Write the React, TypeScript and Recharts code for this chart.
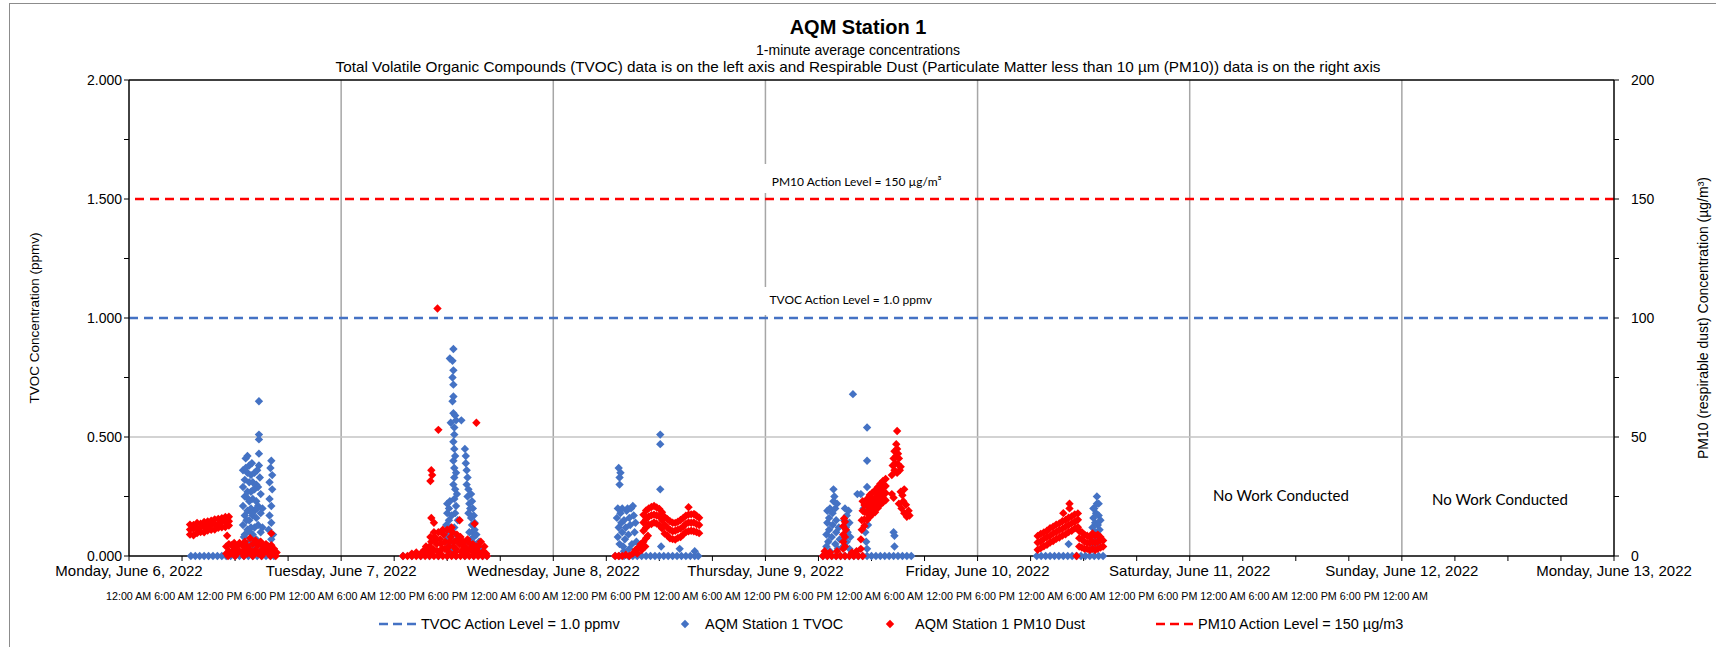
import React from "react";
import {
  ScatterChart,
  Scatter,
  XAxis,
  YAxis,
  CartesianGrid,
  ReferenceLine,
} from "recharts";

type Pt = [number, number];

// x = hours since Monday, June 6, 2022 12:00 AM
// TVOC in ppmv (left axis)
const tvocMon: Pt[] = [
  [7.0, 0], [7.5, 0], [8.0, 0], [8.5, 0], [9.0, 0], [9.5, 0], [10.0, 0], [10.5, 0], [11.0, 0], [11.5, 0],
  [12.0, 0], [12.5, 0], [13.0, 0], [13.5, 0], [14.0, 0], [14.5, 0], [15.0, 0], [15.5, 0], [16.0, 0], [16.4, 0],
  [12.9, 0.05], [12.9, 0.13], [12.9, 0.21], [12.9, 0.29], [12.9, 0.36], [13.1, 0.09], [13.1, 0.17], [13.1, 0.25],
  [13.1, 0.32], [13.2, 0.41], [13.4, 0.42], [13.4, 0.02], [13.4, 0.11], [13.4, 0.19], [13.4, 0.27], [13.4, 0.35],
  [13.6, 0.06], [13.6, 0.15], [13.6, 0.23], [13.6, 0.31], [13.6, 0.38], [13.8, 0.04], [13.8, 0.12], [13.8, 0.2],
  [13.8, 0.27], [13.8, 0.34], [14.0, 0.09], [14.0, 0.17], [14.0, 0.24], [14.0, 0.31], [14.2, 0.02], [14.2, 0.12],
  [14.2, 0.19], [14.2, 0.28], [14.2, 0.35], [14.4, 0.07], [14.4, 0.16], [14.4, 0.23], [14.4, 0.3], [14.6, 0.05],
  [14.6, 0.13], [14.6, 0.21], [14.6, 0.29], [14.7, 0.38], [14.7, 0.43], [14.7, 0.49], [14.7, 0.51], [14.7, 0.65],
  [14.9, 0.1], [14.9, 0.18], [14.9, 0.26], [15.1, 0.03], [15.1, 0.12], [15.1, 0.2],
  [13.0, 0.08], [13.3, 0.15], [13.5, 0.24], [13.7, 0.1], [13.9, 0.18], [14.1, 0.28], [14.3, 0.05], [14.5, 0.2],
  [14.8, 0.33], [13.2, 0.37], [13.9, 0.39], [14.5, 0.36],
  [15.8, 0.04], [15.8, 0.11], [15.9, 0.17], [15.9, 0.24], [15.9, 0.31], [16.0, 0.37], [16.1, 0.4], [16.1, 0.07],
  [16.1, 0.14], [16.1, 0.21], [16.2, 0.28], [16.2, 0.34], [16.3, 0.02], [16.3, 0.09],
];

const tvocTue: Pt[] = [
  [31, 0], [32, 0], [33, 0], [34, 0], [35, 0], [36, 0], [37, 0], [38, 0], [39, 0], [40, 0], [40.5, 0],
  [35.9, 0.03], [35.9, 0.08], [35.9, 0.13], [36.0, 0.18], [36.0, 0.22], [36.1, 0.05], [36.1, 0.1], [36.2, 0.15],
  [36.2, 0.2], [36.3, 0.23], [36.3, 0.02], [36.4, 0.07], [36.4, 0.12], [36.5, 0.17],
  [36.7, 0.87], [36.3, 0.83], [36.6, 0.82], [36.7, 0.78], [36.6, 0.75], [36.7, 0.72], [36.7, 0.67], [36.6, 0.65],
  [36.7, 0.6], [36.9, 0.59], [36.4, 0.56], [37.0, 0.57], [37.6, 0.57], [36.8, 0.54], [36.8, 0.51], [36.7, 0.48],
  [36.8, 0.45], [36.9, 0.42], [36.7, 0.4], [36.8, 0.37], [37.0, 0.35], [36.8, 0.33], [36.7, 0.3], [36.9, 0.28],
  [37.1, 0.26], [36.8, 0.24], [37.0, 0.21], [36.9, 0.18], [37.2, 0.15], [36.8, 0.12], [37.0, 0.09], [37.2, 0.06],
  [36.9, 0.03],
  [38.0, 0.45], [38.1, 0.42], [38.1, 0.39], [38.2, 0.36], [38.3, 0.33], [38.2, 0.3], [38.4, 0.28], [38.3, 0.25],
  [38.5, 0.22], [38.6, 0.2], [38.4, 0.18], [38.7, 0.26], [38.8, 0.23], [38.9, 0.2], [38.7, 0.16], [39.0, 0.17],
  [38.8, 0.13], [39.1, 0.14], [38.9, 0.1], [39.1, 0.11], [38.7, 0.07], [39.0, 0.08], [38.8, 0.04], [39.1, 0.05],
  [39.3, 0.09], [39.4, 0.03], [39.6, 0.06], [39.8, 0.03], [39.9, 0.02], [38.5, 0.1], [38.3, 0.06],
];

const tvocWed: Pt[] = [
  [55.0, 0], [55.5, 0], [56.0, 0], [56.5, 0], [57.0, 0], [57.5, 0], [58.0, 0], [58.5, 0], [59.0, 0], [59.5, 0],
  [60.0, 0], [60.5, 0], [61.0, 0], [61.5, 0], [62.0, 0], [62.5, 0], [63.0, 0], [63.5, 0], [64.0, 0], [64.4, 0],
  [55.4, 0.37], [55.6, 0.35], [55.5, 0.33], [55.5, 0.3], [55.3, 0.2], [55.2, 0.16], [55.4, 0.12], [55.3, 0.08],
  [55.5, 0.05], [55.6, 0.18], [55.7, 0.14], [55.8, 0.1], [55.9, 0.04], [56.0, 0.15], [56.1, 0.07], [56.2, 0.12],
  [56.3, 0.19], [56.4, 0.2], [56.5, 0.09], [56.6, 0.16], [56.7, 0.13], [56.8, 0.2], [56.9, 0.05], [57.0, 0.21],
  [57.1, 0.17], [57.2, 0.1], [57.3, 0.14], [57.4, 0.06], [55.8, 0.2], [56.0, 0.02], [56.6, 0.03],
  [60.1, 0.51], [60.1, 0.47], [60.1, 0.28], [60.2, 0.04], [62.3, 0.03], [64.0, 0.02],
];

const tvocThu: Pt[] = [
  [78.5, 0], [79.0, 0], [79.5, 0], [80.0, 0], [80.5, 0], [81.0, 0], [81.5, 0], [82.0, 0], [82.5, 0], [83.0, 0],
  [83.5, 0], [84.0, 0], [84.5, 0], [85.0, 0], [85.5, 0], [86.0, 0], [86.5, 0], [87.0, 0], [87.5, 0], [88.0, 0], [88.5, 0],
  [78.9, 0.04], [78.9, 0.09], [79.0, 0.14], [79.0, 0.19], [79.1, 0.06], [79.2, 0.11], [79.2, 0.16], [79.3, 0.02], [79.3, 0.2],
  [79.5, 0.08], [79.6, 0.13], [79.6, 0.18], [79.7, 0.23], [79.7, 0.28], [79.8, 0.25], [79.9, 0.2], [79.9, 0.05],
  [80.0, 0.15], [80.0, 0.1], [80.1, 0.22], [80.2, 0.03], [80.3, 0.12], [80.4, 0.07],
  [80.8, 0.04], [80.9, 0.09], [80.9, 0.15], [81.0, 0.2], [81.1, 0.12], [81.2, 0.17], [81.2, 0.06], [81.3, 0.1],
  [81.4, 0.19], [81.5, 0.14], [81.5, 0.03], [81.6, 0.08],
  [81.9, 0.68], [83.5, 0.54], [83.5, 0.4], [83.5, 0.29], [82.8, 0.26], [82.4, 0.26], [83.3, 0.1], [83.4, 0.06],
  [83.6, 0.13], [83.5, 0.03], [86.5, 0.1], [86.6, 0.085], [86.6, 0.04], [83.1, 0.2],
];

const tvocFri: Pt[] = [
  [102.7, 0], [103.2, 0], [103.7, 0], [104.2, 0], [104.7, 0], [105.2, 0], [105.7, 0], [106.2, 0], [106.7, 0],
  [107.2, 0], [107.7, 0], [108.2, 0], [108.7, 0], [109.2, 0], [109.7, 0], [110.2, 0],
  [108.9, 0.03], [109.0, 0.07], [109.0, 0.12], [109.1, 0.16], [109.1, 0.2], [109.2, 0.05], [109.3, 0.1],
  [109.3, 0.14], [109.4, 0.18], [109.5, 0.25], [109.5, 0.22], [109.6, 0.08], [109.6, 0.13], [109.7, 0.17],
  [109.8, 0.04], [109.8, 0.11], [109.9, 0.15], [110.0, 0.07], [109.2, 0.2], [109.7, 0.22], [106.3, 0.05],
];

// PM10 in ug/m3 (right axis)
const pm10Mon: Pt[] = [
  [6.9, 9.0], [6.9, 11.1], [6.9, 13.2], [7.3, 8.7], [7.3, 11.4], [7.3, 13.0], [7.7, 9.6], [7.7, 11.7], [7.7, 13.9],
  [8.1, 10.1], [8.1, 12.0], [8.1, 13.6], [8.5, 10.0], [8.5, 12.4], [8.5, 14.3], [8.9, 10.7], [8.9, 12.6], [8.9, 14.5],
  [9.3, 11.0], [9.3, 13.1], [9.3, 14.8], [9.7, 11.1], [9.7, 13.3], [9.7, 15.4], [10.1, 11.8], [10.1, 13.5],
  [10.1, 15.6], [10.5, 12.1], [10.5, 14.2], [10.5, 15.9], [10.9, 12.2], [10.9, 14.4], [10.9, 16.4], [11.3, 12.8],
  [11.3, 14.6], [11.3, 16.5],
  [11.0, 1], [11.0, 4], [11.3, 2], [11.3, 5], [11.6, 1], [11.6, 4.5], [11.9, 2.5], [11.9, 5.5], [12.2, 1], [12.2, 4],
  [12.5, 2], [12.5, 5.5], [12.8, 1.5], [12.8, 4.5], [13.1, 2.5], [13.1, 6], [13.4, 1], [13.4, 4], [13.7, 2.5],
  [13.7, 7.5], [14.0, 1.5], [14.0, 5], [14.3, 2.5], [14.3, 6.5], [14.6, 1], [14.6, 4.5], [14.9, 2], [14.9, 6],
  [15.2, 1], [15.2, 4], [15.5, 2.5], [15.5, 5], [15.8, 1], [15.8, 3.5], [16.1, 2], [16.1, 4.5], [16.4, 1], [16.4, 3],
  [16.7, 1.5], [11.2, 0], [12.0, 0], [13.0, 0], [14.0, 0], [15.0, 0], [16.0, 0], [16.6, 0],
  [11.1, 8.5], [16.1, 9.5],
];

const pm10Tue: Pt[] = [
  [31, 0], [31.5, 0], [32, 0], [32.5, 0], [33, 0], [33.5, 0], [34, 0], [34.5, 0], [35, 0], [35.5, 0],
  [36, 0], [36.5, 0], [37, 0], [37.5, 0], [38, 0], [38.5, 0], [39, 0], [39.5, 0], [40, 0], [40.5, 0],
  [32.0, 1], [32.5, 1.5], [33.0, 1], [33.4, 2.5], [33.8, 2], [34.0, 4], [34.2, 6], [34.4, 3], [34.6, 8], [34.8, 5],
  [35.0, 10], [35.2, 7], [35.4, 3], [35.6, 9], [35.8, 6], [36.0, 11], [36.2, 4], [36.4, 8], [36.6, 10], [36.8, 6],
  [37.0, 3], [37.2, 7], [37.4, 5], [37.6, 2], [37.8, 6], [38.0, 4], [38.3, 7], [38.6, 3], [38.9, 5], [39.2, 2],
  [39.5, 4], [39.8, 6], [40.1, 2], [40.4, 1], [34.3, 2], [35.1, 1.5], [36.1, 2], [36.9, 1.5], [37.9, 1.5], [39.0, 1.5],
  [33.6, 4], [34.1, 8], [34.5, 10], [34.9, 2], [35.3, 5], [35.7, 3], [36.3, 6], [36.7, 4], [37.1, 9], [37.5, 8],
  [37.9, 3.5], [38.2, 2], [38.5, 5.5], [38.8, 2.5], [39.3, 4], [39.6, 1.5], [40.2, 4], [35.5, 11], [36.5, 12],
  [34.7, 6.5],
  [34.9, 104], [35.0, 53], [39.3, 56], [34.2, 36], [34.3, 34], [34.1, 31.5], [34.2, 16], [34.5, 14], [37.4, 15],
  [39.1, 13.5],
];

const pm10Wed: Pt[] = [
  [55.0, 0], [55.4, 0], [55.8, 0], [56.2, 0.5], [56.6, 0], [57.0, 1], [57.3, 2.5], [57.6, 3.5], [57.9, 5],
  [58.2, 6], [58.5, 7.5], [58.7, 8.5], [57.5, 1], [58.0, 2.5], [58.4, 4],
  [58.2, 10.6], [58.2, 14.1], [58.2, 17.3], [58.5, 12.0], [58.5, 15.4], [58.5, 19.1], [58.8, 13.2], [58.8, 16.6],
  [58.8, 20.0], [59.1, 13.4], [59.1, 17.1], [59.1, 20.6], [59.4, 14.1], [59.4, 17.4], [59.4, 21.0], [59.7, 13.6],
  [59.7, 17.0], [59.7, 20.4], [60.0, 12.9], [60.0, 16.6], [60.0, 19.8], [60.3, 11.6], [60.3, 15.1], [60.3, 18.4],
  [60.6, 9.4], [60.6, 13.1], [60.6, 16.4], [60.9, 8.6], [60.9, 12.0], [60.9, 15.5], [61.2, 7.4], [61.2, 11.0],
  [61.2, 14.6], [61.5, 7.1], [61.5, 10.4], [61.5, 14.0], [61.8, 6.9], [61.8, 10.6], [61.8, 13.9], [62.1, 7.6],
  [62.1, 11.1], [62.1, 14.4], [62.4, 8.0], [62.4, 11.5], [62.4, 15.1], [62.7, 9.0], [62.7, 12.4], [62.7, 16.0],
  [63.0, 10.1], [63.0, 13.5], [63.0, 16.9], [63.3, 10.4], [63.3, 14.1], [63.3, 17.4], [63.6, 10.6], [63.6, 14.0],
  [63.6, 17.5], [63.9, 10.4], [63.9, 14.1], [63.9, 17.6], [64.2, 10.1], [64.2, 13.4], [64.2, 16.9], [64.5, 9.6],
  [64.5, 13.0], [64.5, 16.1],
  [63.3, 20.5], [64.0, 17.5],
];

const pm10Thu: Pt[] = [
  [78.5, 0], [79.0, 0], [79.5, 0], [80.0, 0], [80.5, 0], [81.0, 0], [81.5, 0], [82.0, 0], [82.5, 0], [83.0, 0],
  [78.7, 2], [79.3, 1.5], [80.1, 2], [81.8, 1.5], [82.3, 2],
  [80.8, 3], [80.8, 6], [80.8, 9], [80.8, 12.5], [80.9, 15.8], [81.0, 4], [81.0, 8], [81.1, 11], [81.0, 14.4],
  [82.8, 3], [82.8, 7], [82.9, 11], [82.9, 15], [83.0, 19], [83.0, 23],
  [83.2, 12.6], [83.2, 15.4], [83.2, 18.6], [83.2, 21.4], [83.5, 15.1], [83.5, 18.0], [83.5, 21.1], [83.5, 24.0],
  [83.8, 16.4], [83.8, 19.6], [83.8, 22.4], [83.8, 25.6], [84.1, 17.6], [84.1, 20.4], [84.1, 23.5], [84.1, 26.6],
  [84.4, 18.4], [84.4, 21.6], [84.4, 24.4], [84.4, 27.5], [84.7, 20.1], [84.7, 23.0], [84.7, 26.1], [84.7, 28.9],
  [85.0, 21.5], [85.0, 24.6], [85.0, 27.4], [85.0, 30.4], [85.3, 22.6], [85.3, 25.4], [85.3, 28.6], [85.3, 31.5],
  [85.6, 23.4], [85.6, 26.5], [85.6, 29.4], [85.6, 32.4],
  [86.3, 34], [86.6, 36], [86.9, 35], [87.2, 36], [86.4, 38], [86.7, 39], [87.0, 38.5], [87.3, 37.5], [86.5, 41],
  [86.8, 42], [87.1, 41], [86.6, 44], [86.9, 45], [87.0, 43], [86.8, 47], [86.9, 52.5],
  [86.3, 26], [86.5, 24.5], [87.3, 27], [87.5, 25.5], [87.7, 28], [87.1, 22], [87.4, 20], [87.7, 18], [88.0, 16.5],
  [88.2, 19], [87.9, 21.5], [87.6, 23], [88.3, 17],
];

const pm10Fri: Pt[] = [
  [102.8, 2.6], [102.8, 5.7], [102.8, 8.4], [103.15, 3.3], [103.15, 6.1], [103.15, 9.3], [103.5, 4.1], [103.5, 7.2],
  [103.5, 9.9], [103.85, 4.7], [103.85, 7.9], [103.85, 10.6], [104.2, 5.7], [104.2, 8.5], [104.2, 11.7],
  [104.55, 6.3], [104.55, 9.5], [104.55, 12.3], [104.9, 7.2], [104.9, 10.1], [104.9, 13.2], [105.25, 7.8],
  [105.25, 10.9], [105.25, 13.7], [105.6, 8.6], [105.6, 11.4], [105.6, 14.6], [105.95, 9.1], [105.95, 12.3],
  [105.95, 15.1], [106.3, 10.1], [106.3, 13.0], [106.3, 16.1], [106.65, 10.6], [106.65, 13.8], [106.65, 16.6],
  [107.0, 11.6], [107.0, 14.4], [107.0, 17.5], [107.35, 12.1], [107.35, 15.2], [107.35, 17.9],
  [106.4, 22], [106.4, 20], [105.7, 18], [107.2, 0],
  [107.5, 4], [107.5, 7.5], [107.5, 10.5], [107.8, 3.5], [107.8, 7], [107.8, 10], [108.1, 3], [108.1, 6], [108.1, 9],
  [108.4, 3], [108.4, 5.5], [108.4, 8.5], [108.7, 2.5], [108.7, 5.5], [108.7, 8], [109.0, 3], [109.0, 6],
  [109.0, 9.5], [109.3, 2.5], [109.3, 5.5], [109.3, 8.5], [109.6, 3], [109.6, 6], [109.6, 9], [109.9, 3.5],
  [109.9, 6.5], [109.9, 8], [110.2, 4], [110.2, 6.5],
];

const dayLabels = [
  "Monday, June 6, 2022",
  "Tuesday, June 7, 2022",
  "Wednesday, June 8, 2022",
  "Thursday, June 9, 2022",
  "Friday, June 10, 2022",
  "Saturday, June 11, 2022",
  "Sunday, June 12, 2022",
  "Monday, June 13, 2022",
];
const dayTicks = [0, 24, 48, 72, 96, 120, 144, 168];
const hourTicks = [
  0, 6, 12, 18, 24, 30, 36, 42, 48, 54, 60, 66, 72, 78, 84, 90, 96, 102, 108, 114, 120, 126, 132, 138, 144, 150,
  156, 162, 168,
];
const timeLabels = ["12:00 AM", "6:00 AM", "12:00 PM", "6:00 PM"];
const leftTicks = [0, 0.25, 0.5, 0.75, 1, 1.25, 1.5, 1.75, 2];
const rightTicks = [0, 25, 50, 75, 100, 125, 150, 175, 200];
const tvocLevel = 1.0;
const pm10Level = 150;

const W = 1716;
const H = 647;
const ARIAL = "'Liberation Sans', Arial, sans-serif";
const CALIBRI = "Lato, 'Open Sans', sans-serif";
const BLUE = "#4472C4";
const RED = "#FF0000";
const MARK = 4.2;

const toXY = (pts: Pt[]) => pts.map(([h, v]) => ({ x: h, y: v }));
const tvocData = toXY([...tvocMon, ...tvocTue, ...tvocWed, ...tvocThu, ...tvocFri]);
const pm10Data = toXY([...pm10Mon, ...pm10Tue, ...pm10Wed, ...pm10Thu, ...pm10Fri]);

const timeRow = dayLabels
  .slice(0, 7)
  .map(() => timeLabels.join(" "))
  .concat([timeLabels[0]])
  .join(" ");

const diamond = (color: string, r: number) => (props: any) => {
  const { cx, cy } = props;
  if (cx == null || cy == null) return <g />;
  return (
    <path d={`M${cx},${cy - r}L${cx + r},${cy}L${cx},${cy + r}L${cx - r},${cy}Z`} fill={color} />
  );
};

function ActionLabel(props: any) {
  const { viewBox, text, pos, boxTop, boxBottom, dy } = props;
  if (!viewBox) return null;
  const cx = viewBox.x + viewBox.width * pos;
  const y = viewBox.y;
  return (
    <g>
      <rect x={cx - 98} y={y - boxTop} width={200} height={boxTop - boxBottom} fill="#fff" />
      <text x={cx} y={y - dy} textAnchor="middle" fontSize={12} fontFamily={CALIBRI} fill="#000">
        {text}
      </text>
    </g>
  );
}

function LegendDash({ x, color }: { x: number; color: string }) {
  return (
    <line x1={x} y1={624} x2={x + 40} y2={624} stroke={color} strokeWidth={2.5} strokeDasharray="9 5" />
  );
}

export default function App() {
  return (
    <div
      style={{
        position: "absolute",
        left: 0,
        top: 0,
        width: W,
        height: H,
        overflow: "hidden",
        background: "#fff",
      }}
    >
      <div
        style={{
          position: "absolute",
          left: 9,
          top: 3,
          width: W,
          height: H,
          borderLeft: "1px solid #8c8c8c",
          borderTop: "1px solid #8c8c8c",
        }}
      />
      <div style={{ position: "absolute", left: 0, top: 0 }}>
        <ScatterChart width={W} height={H} margin={{ top: 80, right: 52, bottom: 61, left: 59 }}>
          <CartesianGrid
            yAxisId="left"
            horizontal={false}
            verticalValues={dayTicks}
            stroke="#A6A6A6"
            strokeWidth={1.5}
          />
          <CartesianGrid
            yAxisId="left"
            vertical={false}
            horizontalValues={[0.5]}
            stroke="#C4C4C4"
            strokeWidth={1.3}
          />
          <XAxis
            type="number"
            dataKey="x"
            domain={[0, 168]}
            ticks={hourTicks}
            interval={0}
            height={30}
            tickSize={5}
            tickMargin={4}
            tickFormatter={(v: number) => (v % 24 === 0 ? dayLabels[v / 24] : "")}
            tick={{ fontSize: 15, fill: "#000", fontFamily: ARIAL }}
            tickLine={{ stroke: "#000" }}
            axisLine={{ stroke: "#000", strokeWidth: 1.3 }}
          />
          <YAxis
            yAxisId="left"
            type="number"
            dataKey="y"
            domain={[0, 2]}
            ticks={leftTicks}
            interval={0}
            width={70}
            tickSize={5}
            tickMargin={2}
            tickFormatter={(v: number) => (Math.round(v * 1000) % 500 === 0 ? v.toFixed(3) : "")}
            tick={{ fontSize: 14, fill: "#000", fontFamily: ARIAL }}
            tickLine={{ stroke: "#000" }}
            axisLine={{ stroke: "#000", strokeWidth: 1.3 }}
          />
          <YAxis
            yAxisId="right"
            orientation="right"
            type="number"
            dataKey="y"
            domain={[0, 200]}
            ticks={rightTicks}
            interval={0}
            width={50}
            tickSize={5}
            tickMargin={12}
            tickFormatter={(v: number) => (v % 50 === 0 ? String(v) : "")}
            tick={{ fontSize: 14, fill: "#000", fontFamily: ARIAL }}
            tickLine={{ stroke: "#000" }}
            axisLine={{ stroke: "#000", strokeWidth: 1.3 }}
          />
          <ReferenceLine yAxisId="left" y={2} stroke="#000" strokeWidth={1.3} />
          <Scatter
            name="AQM Station 1 TVOC"
            yAxisId="left"
            data={tvocData}
            fill={BLUE}
            shape={diamond(BLUE, MARK)}
            isAnimationActive={false}
          />
          <Scatter
            name="AQM Station 1 PM10 Dust"
            yAxisId="right"
            data={pm10Data}
            fill={RED}
            shape={diamond(RED, MARK)}
            isAnimationActive={false}
          />
          <ReferenceLine
            yAxisId="left"
            y={tvocLevel}
            stroke={BLUE}
            strokeWidth={2.5}
            strokeDasharray="9 6"
            label={
              <ActionLabel text="TVOC Action Level = 1.0 ppmv" pos={0.486} boxTop={31} boxBottom={3} dy={14} />
            }
          />
          <ReferenceLine
            yAxisId="right"
            y={pm10Level}
            stroke={RED}
            strokeWidth={2.5}
            strokeDasharray="9 6"
            label={
              <ActionLabel text="PM10 Action Level = 150 µg/m³" pos={0.49} boxTop={35} boxBottom={6} dy={13} />
            }
          />
        </ScatterChart>
      </div>
      <svg
        width={W}
        height={H}
        style={{ position: "absolute", left: 0, top: 0, pointerEvents: "none" }}
        fontFamily={ARIAL}
      >
        <text x={858} y={34} textAnchor="middle" fontSize={20} fontWeight="bold">
          AQM Station 1
        </text>
        <text x={858} y={55} textAnchor="middle" fontSize={14}>
          1-minute average concentrations
        </text>
        <text x={858} y={72} textAnchor="middle" fontSize={14.5} textLength={1045} lengthAdjust="spacingAndGlyphs">
          Total Volatile Organic Compounds (TVOC) data is on the left axis and Respirable Dust (Particulate Matter less
          than 10 µm (PM10)) data is on the right axis
        </text>
        <text x={0} y={0} transform="translate(39,318) rotate(-90)" textAnchor="middle" fontSize={13.5}>
          TVOC Concentration (ppmv)
        </text>
        <text x={0} y={0} transform="translate(1708,318) rotate(-90)" textAnchor="middle" fontSize={14}>
          PM10 (respirable dust) Concentration (µg/m³)
        </text>
        <text x={106} y={600} fontSize={10.6} textLength={1322} lengthAdjust="spacingAndGlyphs">
          {timeRow}
        </text>
        <text x={1281} y={501} textAnchor="middle" fontSize={15} fontFamily={CALIBRI}>
          No Work Conducted
        </text>
        <text x={1500} y={505} textAnchor="middle" fontSize={15} fontFamily={CALIBRI}>
          No Work Conducted
        </text>
        <LegendDash x={379} color={BLUE} />
        <text x={421} y={629} fontSize={14.5}>
          TVOC Action Level = 1.0 ppmv
        </text>
        {diamond(BLUE, 4.2)({ cx: 685, cy: 624 })}
        <text x={705} y={629} fontSize={14.5}>
          AQM Station 1 TVOC
        </text>
        {diamond(RED, 4.2)({ cx: 890, cy: 624 })}
        <text x={915} y={629} fontSize={14.5}>
          AQM Station 1 PM10 Dust
        </text>
        <LegendDash x={1156} color={RED} />
        <text x={1198} y={629} fontSize={14.5}>
          PM10 Action Level = 150 µg/m3
        </text>
      </svg>
    </div>
  );
}
